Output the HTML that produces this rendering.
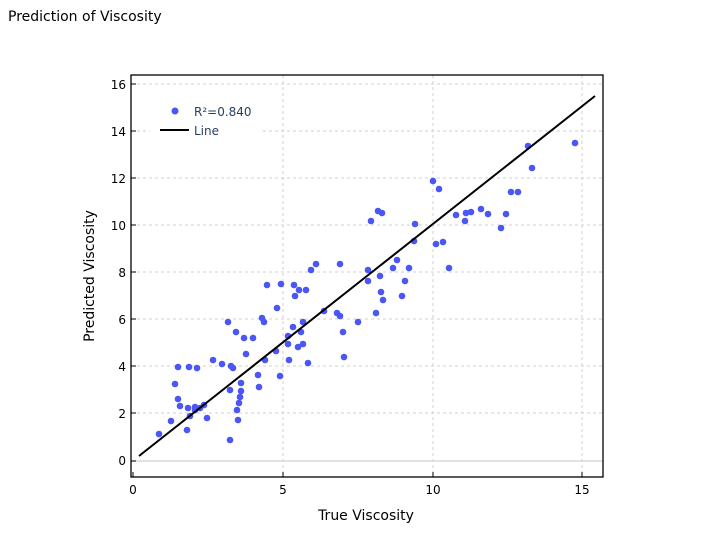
<!DOCTYPE html>
<html><head><meta charset="utf-8"><style>body{margin:0;background:#fff}svg{display:block;font-family:"DejaVu Sans","Liberation Sans",sans-serif}</style></head><body>
<svg width="706" height="538" xmlns="http://www.w3.org/2000/svg">
<rect width="706" height="538" fill="#fff"/>
<text x="8" y="21" font-size="14" fill="#000">Prediction of Viscosity</text>
<g stroke="#d0d0d0" stroke-dasharray="3,3" stroke-width="1">
<line x1="283" y1="75" x2="283" y2="477"/><line x1="433" y1="75" x2="433" y2="477"/><line x1="582" y1="75" x2="582" y2="477"/>
<line x1="131" y1="413" x2="603" y2="413"/><line x1="131" y1="366" x2="603" y2="366"/><line x1="131" y1="319" x2="603" y2="319"/><line x1="131" y1="272" x2="603" y2="272"/><line x1="131" y1="225" x2="603" y2="225"/><line x1="131" y1="178" x2="603" y2="178"/><line x1="131" y1="131" x2="603" y2="131"/><line x1="131" y1="84" x2="603" y2="84"/>
</g>
<line x1="131" y1="461" x2="603" y2="461" stroke="#d8d8d8" stroke-width="1.5"/>
<g fill="#4a56f5">
<circle cx="159" cy="434" r="3.3"/><circle cx="171" cy="421" r="3.3"/><circle cx="175" cy="384" r="3.3"/><circle cx="178" cy="399" r="3.3"/><circle cx="180" cy="406" r="3.3"/><circle cx="178" cy="367" r="3.3"/><circle cx="187" cy="430" r="3.3"/><circle cx="188" cy="408" r="3.3"/><circle cx="189" cy="367" r="3.3"/><circle cx="190" cy="416" r="3.3"/><circle cx="195" cy="410" r="3.3"/><circle cx="197" cy="368" r="3.3"/><circle cx="195" cy="407" r="3.3"/><circle cx="200" cy="408" r="3.3"/><circle cx="204" cy="405" r="3.3"/><circle cx="207" cy="418" r="3.3"/><circle cx="213" cy="360" r="3.3"/><circle cx="222" cy="364" r="3.3"/><circle cx="231" cy="366" r="3.3"/><circle cx="228" cy="322" r="3.3"/><circle cx="230" cy="390" r="3.3"/><circle cx="233" cy="368" r="3.3"/><circle cx="230" cy="440" r="3.3"/><circle cx="237" cy="410" r="3.3"/><circle cx="238" cy="420" r="3.3"/><circle cx="239" cy="403" r="3.3"/><circle cx="240" cy="397" r="3.3"/><circle cx="241" cy="383" r="3.3"/><circle cx="241" cy="391" r="3.3"/><circle cx="236" cy="332" r="3.3"/><circle cx="246" cy="354" r="3.3"/><circle cx="244" cy="338" r="3.3"/><circle cx="258" cy="375" r="3.3"/><circle cx="259" cy="387" r="3.3"/><circle cx="262" cy="318" r="3.3"/><circle cx="264" cy="322" r="3.3"/><circle cx="265" cy="360" r="3.3"/><circle cx="267" cy="285" r="3.3"/><circle cx="253" cy="338" r="3.3"/><circle cx="277" cy="308" r="3.3"/><circle cx="276" cy="351" r="3.3"/><circle cx="280" cy="376" r="3.3"/><circle cx="281" cy="284" r="3.3"/><circle cx="288" cy="344" r="3.3"/><circle cx="289" cy="360" r="3.3"/><circle cx="288" cy="336" r="3.3"/><circle cx="293" cy="327" r="3.3"/><circle cx="294" cy="285" r="3.3"/><circle cx="295" cy="296" r="3.3"/><circle cx="298" cy="347" r="3.3"/><circle cx="299" cy="290" r="3.3"/><circle cx="301" cy="332" r="3.3"/><circle cx="303" cy="344" r="3.3"/><circle cx="303" cy="322" r="3.3"/><circle cx="306" cy="290" r="3.3"/><circle cx="308" cy="363" r="3.3"/><circle cx="311" cy="270" r="3.3"/><circle cx="316" cy="264" r="3.3"/><circle cx="324" cy="311" r="3.3"/><circle cx="337" cy="313" r="3.3"/><circle cx="340" cy="316" r="3.3"/><circle cx="343" cy="332" r="3.3"/><circle cx="344" cy="357" r="3.3"/><circle cx="340" cy="264" r="3.3"/><circle cx="358" cy="322" r="3.3"/><circle cx="368" cy="270" r="3.3"/><circle cx="368" cy="281" r="3.3"/><circle cx="371" cy="221" r="3.3"/><circle cx="376" cy="313" r="3.3"/><circle cx="378" cy="211" r="3.3"/><circle cx="380" cy="276" r="3.3"/><circle cx="381" cy="292" r="3.3"/><circle cx="383" cy="300" r="3.3"/><circle cx="382" cy="213" r="3.3"/><circle cx="393" cy="268" r="3.3"/><circle cx="397" cy="260" r="3.3"/><circle cx="402" cy="296" r="3.3"/><circle cx="405" cy="281" r="3.3"/><circle cx="409" cy="268" r="3.3"/><circle cx="414" cy="241" r="3.3"/><circle cx="415" cy="224" r="3.3"/><circle cx="433" cy="181" r="3.3"/><circle cx="436" cy="244" r="3.3"/><circle cx="439" cy="189" r="3.3"/><circle cx="443" cy="242" r="3.3"/><circle cx="449" cy="268" r="3.3"/><circle cx="456" cy="215" r="3.3"/><circle cx="465" cy="221" r="3.3"/><circle cx="466" cy="213" r="3.3"/><circle cx="471" cy="212" r="3.3"/><circle cx="481" cy="209" r="3.3"/><circle cx="488" cy="214" r="3.3"/><circle cx="501" cy="228" r="3.3"/><circle cx="506" cy="214" r="3.3"/><circle cx="511" cy="192" r="3.3"/><circle cx="518" cy="192" r="3.3"/><circle cx="528" cy="146" r="3.3"/><circle cx="532" cy="168" r="3.3"/><circle cx="575" cy="143" r="3.3"/>
</g>
<line x1="139" y1="456" x2="595" y2="96" stroke="#000" stroke-width="2"/>
<rect x="131" y="75" width="472" height="402" fill="none" stroke="#000" stroke-width="1.3"/>
<g stroke="#000" stroke-width="1">
<line x1="133" y1="472" x2="133" y2="477"/><line x1="283" y1="472" x2="283" y2="477"/><line x1="433" y1="472" x2="433" y2="477"/><line x1="582" y1="472" x2="582" y2="477"/>
<line x1="131" y1="461" x2="136" y2="461"/><line x1="131" y1="413" x2="136" y2="413"/><line x1="131" y1="366" x2="136" y2="366"/><line x1="131" y1="319" x2="136" y2="319"/><line x1="131" y1="272" x2="136" y2="272"/><line x1="131" y1="225" x2="136" y2="225"/><line x1="131" y1="178" x2="136" y2="178"/><line x1="131" y1="131" x2="136" y2="131"/><line x1="131" y1="84" x2="136" y2="84"/>
</g>
<g font-size="12" fill="#000" text-anchor="middle">
<text x="133" y="494">0</text><text x="283" y="494">5</text><text x="433" y="494">10</text><text x="582" y="494">15</text>
</g>
<g font-size="12" fill="#000" text-anchor="end">
<text x="126" y="465">0</text><text x="126" y="418">2</text><text x="126" y="371">4</text><text x="126" y="324">6</text><text x="126" y="277">8</text><text x="126" y="230">10</text><text x="126" y="183">12</text><text x="126" y="136">14</text><text x="126" y="89">16</text>
</g>
<text x="366" y="520" font-size="14" text-anchor="middle">True Viscosity</text>
<text transform="translate(94,276) rotate(-90)" font-size="14" text-anchor="middle">Predicted Viscosity</text>
<rect x="150" y="98" width="110" height="44" fill="#fff"/>
<circle cx="175" cy="111" r="3.5" fill="#4a56f5"/>
<text x="194" y="116" font-size="12" fill="#2a3f5f">R²=0.840</text>
<line x1="160" y1="130" x2="189" y2="130" stroke="#000" stroke-width="2"/>
<text x="194" y="135" font-size="12" fill="#2a3f5f">Line</text>
</svg>
</body></html>
